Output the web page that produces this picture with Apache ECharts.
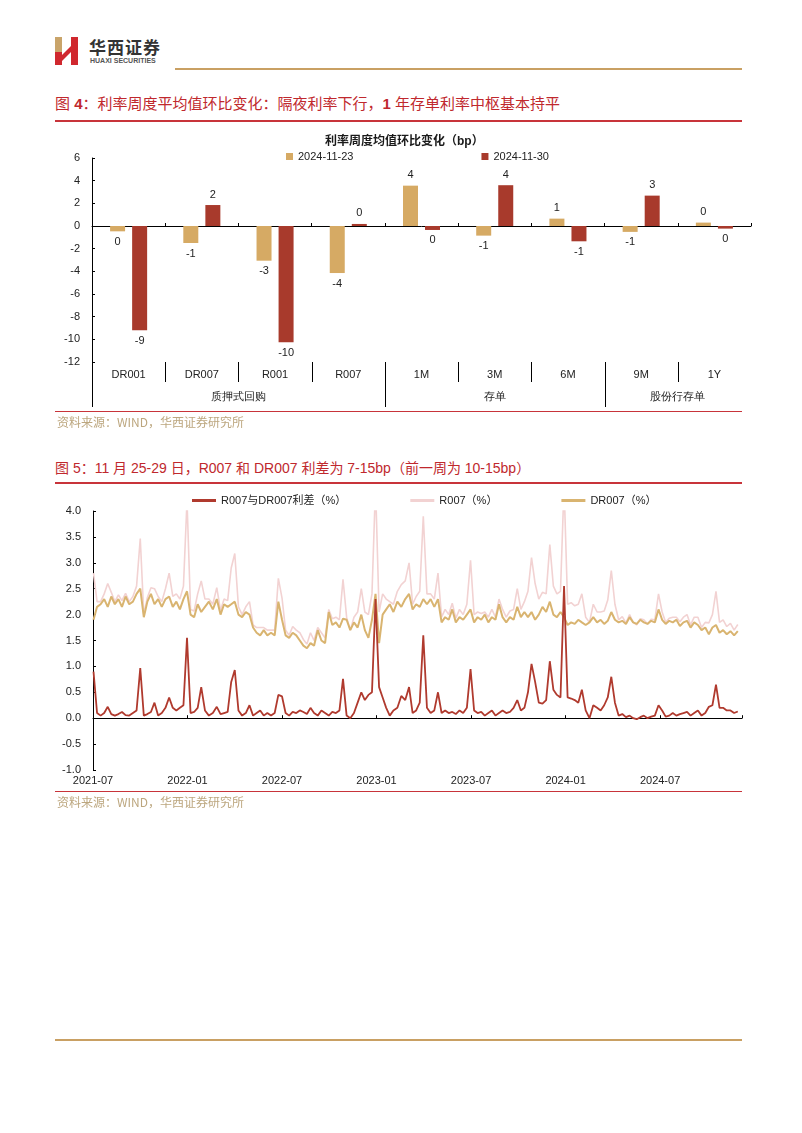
<!DOCTYPE html>
<html><head><meta charset="utf-8">
<script src="https://cdn.jsdelivr.net/npm/echarts@6/dist/echarts.min.js"></script>
<style>
body{margin:0;background:#fff;}
#page{position:relative;width:802px;height:1133px;overflow:hidden;font-family:'Liberation Sans','Noto Sans CJK SC',sans-serif;background:#fff;}
.abs{position:absolute;}
.title{color:#C0282D;font-size:15px;line-height:18px;white-space:nowrap;font-family:'Liberation Sans','Noto Sans CJK SC',sans-serif;}
.src{color:#BCA67E;font-size:12px;line-height:14px;white-space:nowrap;font-family:'Noto Sans CJK SC',sans-serif;}
.rule-red{background:#C8343A;height:1px;}
</style></head><body>
<div id="page">
  <svg class="abs" style="left:55px;top:37px" width="24" height="28" viewBox="0 0 24 28">
    <rect x="0" y="0" width="7" height="15" fill="#C9A46A"/>
    <rect x="0" y="15" width="7" height="13" fill="#D0282E"/>
    <polygon points="3,22 17,8 19,12 5,26" fill="#D0282E"/>
    <rect x="16" y="0" width="7" height="28" fill="#D0282E"/>
  </svg>
  <div class="abs" style="left:89px;top:37px;font-size:17px;line-height:19px;font-weight:bold;color:#333;letter-spacing:1px;font-family:'Noto Sans CJK SC',sans-serif;">华西证券</div>
  <div class="abs" style="left:90px;top:57px;font-size:7px;line-height:8px;font-weight:bold;color:#555;">HUAXI SECURITIES</div>
  <div class="abs" style="left:175px;top:68px;width:567px;height:2px;background:#C9A063;"></div>

  <div class="abs title" style="left:55px;top:95px;">图 <b>4</b>：利率周度平均值环比变化：隔夜利率下行，<b>1</b> 年存单利率中枢基本持平</div>
  <div class="abs rule-red" style="left:55px;top:120px;width:687px;height:2px;"></div>
  <div id="c1" class="abs" style="left:0;top:125px;width:802px;height:290px;"></div>
  <div class="abs rule-red" style="left:55px;top:411px;width:687px;"></div>
  <div class="abs src" style="left:57px;top:415px;">资料来源：WIND，华西证券研究所</div>

  <div class="abs title" style="left:55px;top:459px;font-size:14px;">图 5：11 月 25-29 日，R007 和 DR007 利差为 7-15bp（前一周为 10-15bp）</div>
  <div class="abs rule-red" style="left:55px;top:482px;width:687px;height:2px;"></div>
  <div id="c2" class="abs" style="left:0;top:485px;width:802px;height:315px;"></div>
  <div class="abs rule-red" style="left:55px;top:791px;width:687px;"></div>
  <div class="abs src" style="left:57px;top:795px;">资料来源：WIND，华西证券研究所</div>

  <div class="abs" style="left:55px;top:1039px;width:687px;height:2px;background:#C9A063;"></div>
</div>
<script>
// ---------- Figure 4 data ----------
const barCategories = ['DR001','DR007','R001','R007','1M','3M','6M','9M','1Y'];
const groupNames = ['质押式回购','存单','股份行存单'];
const groupSizes = [4, 3, 2];
const barSeriesNames = ['2024-11-23','2024-11-30'];
const prevWeek = [-0.47, -1.5, -3.06, -4.15, 3.56, -0.85, 0.65, -0.52, 0.3];
const thisWeek = [-9.2, 1.85, -10.26, 0.18, -0.35, 3.6, -1.35, 2.68, -0.23];

// ---------- Figure 5 data (weekly observations, Fridays from 2021-07-02) ----------
const lineSeriesNames = ['R007与DR007利差（%）','R007（%）','DR007（%）'];
const xTickLabels = ['2021-07','2022-01','2022-07','2023-01','2023-07','2024-01','2024-07'];
const spread = [
 0.9,0.1,0.05,0.1,0.22,0.08,0.05,0.08,0.12,0.06,
 0.05,0.1,0.15,0.97,0.05,0.08,0.12,0.3,0.05,0.1,
 0.2,0.4,0.2,0.15,0.2,0.25,1.55,0.1,0.12,0.2,
 0.6,0.15,0.05,0.1,0.22,0.08,0.1,0.12,0.7,0.93,
 0.15,0.05,0.1,0.25,0.05,0.1,0.15,0.05,0.1,0.05,
 0.1,0.45,0.42,0.1,0.05,0.12,0.1,0.15,0.12,0.08,
 0.2,0.1,0.05,0.15,0.1,0.05,0.12,0.1,0.15,0.76,
 0.05,0.0,0.1,0.3,0.5,0.35,0.45,0.5,2.3,0.6,
 0.4,0.2,0.05,0.15,0.2,0.43,0.35,0.6,0.1,0.15,
 0.3,1.6,0.2,0.1,0.15,0.5,0.1,0.15,0.1,0.12,
 0.08,0.15,0.1,0.2,0.95,0.15,0.1,0.12,0.05,0.1,
 0.15,0.05,0.1,0.15,0.1,0.12,0.2,0.35,0.15,0.2,
 0.5,1.05,0.7,0.3,0.28,0.35,1.1,0.55,0.45,0.4,
 2.55,0.4,0.38,0.35,0.3,0.55,0.15,0.0,0.25,0.2,
 0.15,0.25,0.4,0.8,0.3,0.05,0.08,0.02,0.05,0.0,
 -0.02,0.02,0.05,0.0,0.03,0.05,0.25,0.15,0.03,0.05,
 0.1,0.05,0.08,0.1,0.12,0.05,0.1,0.15,0.05,0.1,
 0.22,0.25,0.65,0.2,0.2,0.15,0.15,0.1,0.13];
const r007 = [
 2.8,2.25,2.25,2.4,2.6,2.43,2.25,2.38,2.27,2.41,
 2.25,2.35,2.55,3.47,2.0,2.33,2.52,2.5,2.35,2.25,
 2.5,2.8,2.35,2.4,2.3,2.55,4.2,2.1,2.07,2.4,
 2.65,2.3,2.3,2.2,2.52,2.08,2.3,2.27,2.9,3.18,
 2.15,2.0,2.15,2.25,1.8,1.75,1.75,1.75,1.7,1.7,
 1.7,2.7,2.32,1.7,1.6,1.77,1.7,1.65,1.52,1.43,
 1.65,1.5,1.75,1.65,1.55,2.1,1.92,1.95,1.9,2.68,
 1.95,1.7,1.95,2.05,2.5,2.05,2.0,2.4,4.5,2.05,
 2.4,2.3,2.25,2.2,2.45,2.58,2.65,3.0,2.2,2.35,
 2.45,3.9,2.4,2.4,2.3,2.8,1.95,2.1,2.0,2.22,
 1.93,2.1,2.0,2.2,3.05,2.0,2.05,2.02,2.05,1.95,
 2.1,1.95,2.3,2.1,1.95,2.07,2.1,2.5,2.1,2.25,
 2.45,3.1,2.6,2.3,2.43,2.4,3.35,2.55,2.4,2.45,
 4.5,2.2,2.23,2.17,2.2,2.4,1.95,1.85,2.2,2.05,
 2.05,2.07,2.28,2.85,2.2,1.9,1.96,1.84,2.0,1.85,
 1.8,1.92,1.9,1.82,1.91,1.9,2.4,2.05,1.85,1.93,
 1.95,1.95,1.86,1.95,2.0,1.8,1.95,1.95,1.75,1.85,
 1.84,2.0,2.45,1.85,1.9,1.77,1.83,1.7,1.81];
const dr007 = [
 1.9,2.15,2.2,2.3,2.15,2.35,2.2,2.3,2.15,2.35,
 2.2,2.25,2.4,2.5,1.95,2.25,2.4,2.2,2.3,2.15,
 2.3,2.35,2.15,2.25,2.1,2.3,2.45,2.0,1.95,2.2,
 2.05,2.15,2.25,2.1,2.3,2.0,2.2,2.15,2.2,2.25,
 2.0,1.95,2.05,2.0,1.75,1.65,1.6,1.7,1.6,1.65,
 1.6,2.25,1.9,1.6,1.55,1.65,1.6,1.5,1.4,1.35,
 1.45,1.4,1.7,1.5,1.45,2.05,1.8,1.85,1.75,1.92,
 1.9,1.7,1.85,1.75,2.0,1.7,1.55,1.9,2.4,1.45,
 2.0,2.1,2.2,2.05,2.25,2.15,2.3,2.4,2.1,2.2,
 2.15,2.3,2.2,2.3,2.15,2.3,1.85,1.95,1.9,2.1,
 1.85,1.95,1.9,2.0,2.1,1.85,1.95,1.9,2.0,1.85,
 1.95,1.9,2.2,1.95,1.85,1.95,1.9,2.15,1.95,2.05,
 1.95,2.05,1.9,2.0,2.15,2.05,2.25,2.0,1.95,2.05,
 1.95,1.8,1.85,1.82,1.9,1.85,1.8,1.85,1.95,1.85,
 1.9,1.82,1.88,2.05,1.9,1.85,1.88,1.82,1.95,1.85,
 1.82,1.9,1.85,1.82,1.88,1.85,2.1,1.9,1.82,1.88,
 1.85,1.9,1.78,1.85,1.88,1.75,1.85,1.8,1.7,1.75,
 1.62,1.75,1.8,1.65,1.7,1.62,1.68,1.6,1.68];

const FONT = "'Liberation Sans','Noto Sans CJK SC',sans-serif";
const GOLD = '#D6AA64', RED = '#A83A2C';

// ---------- Chart 1 ----------
const c1 = echarts.init(document.getElementById('c1'));
const labelFmt = p => String(Math.round(p.value) || 0);
c1.setOption({
  animation: false,
  textStyle: {fontFamily: FONT},
  title: {text: '利率周度均值环比变化（bp）', left: 320, top: 6,
    textStyle: {fontSize: 12, fontWeight: 'bold', color: '#1a1a1a', fontFamily: FONT}},
  legend: {left: 281, top: 21, itemWidth: 7, itemHeight: 7, itemGap: 128, icon: 'rect',
    textStyle: {fontSize: 11, color: '#222', fontFamily: FONT}, data: barSeriesNames},
  grid: {left: 92, right: 51, top: 33, bottom: 53},
  xAxis: [
    {type: 'category', data: barCategories, position: 'bottom',
     axisLine: {show: false, onZero: false}, axisTick: {show: false},
     axisLabel: {fontSize: 11, color: '#222', margin: 7, fontFamily: FONT}},
    {type: 'category', data: barCategories, position: 'bottom',
     axisLine: {show: true, onZero: true, lineStyle: {color: '#000', width: 1}},
     axisTick: {show: true, inside: true, length: 3, lineStyle: {color: '#000'}},
     axisLabel: {show: false}}
  ],
  yAxis: {type: 'value', min: -12, max: 6, interval: 2,
    axisLine: {show: true, lineStyle: {color: '#000'}},
    axisTick: {show: true, inside: true, length: 3, lineStyle: {color: '#000'}},
    splitLine: {show: false},
    axisLabel: {fontSize: 11, color: '#222', margin: 12, fontFamily: FONT}},
  series: [
    {name: barSeriesNames[0], type: 'bar', data: prevWeek, barWidth: 15, barGap: '47%',
     itemStyle: {color: GOLD},
     label: {show: true, position: 'outside', distance: 5, fontSize: 11, color: '#222', formatter: labelFmt}},
    {name: barSeriesNames[1], type: 'bar', data: thisWeek, barWidth: 15, barGap: '47%',
     itemStyle: {color: RED},
     label: {show: true, position: 'outside', distance: 5, fontSize: 11, color: '#222', formatter: labelFmt}}
  ]
});
(function addGroupAxis() {
  const cx0 = c1.convertToPixel({xAxisIndex: 0}, barCategories[0]);
  const cx1 = c1.convertToPixel({xAxisIndex: 0}, barCategories[1]);
  const w = cx1 - cx0;
  const left = cx0 - w / 2;
  const yb = c1.convertToPixel({yAxisIndex: 0}, -12);
  const els = [];
  const groupEnds = [];
  let acc = 0;
  groupSizes.forEach(n => { acc += n; groupEnds.push(acc); });
  for (let k = 0; k < barCategories.length; k++) {
    const x = Math.round(left + k * w) + 0.5;
    const long = k === 0 || groupEnds.indexOf(k) >= 0;
    els.push({type: 'line', shape: {x1: x, y1: yb, x2: x, y2: yb + (long ? 45 : 20)},
      style: {stroke: '#000', lineWidth: 1}, silent: true});
  }
  let start = 0;
  groupNames.forEach((g, gi) => {
    const cx = left + (start + groupSizes[gi] / 2) * w;
    els.push({type: 'text', x: cx, y: yb + 35,
      style: {text: g, fontSize: 11, fill: '#222', font: '11px ' + FONT, align: 'center', verticalAlign: 'middle'}, silent: true});
    start += groupSizes[gi];
  });
  c1.setOption({graphic: els});
})();

// ---------- Chart 2 ----------
function monthPos(i) {
  const d = new Date(Date.UTC(2021, 6, 2) + i * 7 * 864e5);
  const y = d.getUTCFullYear(), m = d.getUTCMonth(), day = d.getUTCDate();
  const dim = new Date(Date.UTC(y, m + 1, 0)).getUTCDate();
  return (y - 2021) * 12 + (m - 6) + (day - 1) / dim;
}
const pairs = arr => arr.map((v, i) => [monthPos(i), v]);
const c2 = echarts.init(document.getElementById('c2'));
c2.setOption({
  animation: false,
  textStyle: {fontFamily: FONT},
  legend: {left: 187, top: 5, itemWidth: 24, itemHeight: 3, itemGap: 64, icon: 'rect',
    textStyle: {fontSize: 11, color: '#222', fontFamily: FONT}, data: lineSeriesNames},
  grid: {left: 93, right: 60, top: 26, bottom: 30},
  xAxis: [
    {type: 'value', min: 0, max: 41.2, interval: 6, position: 'bottom',
     axisLine: {show: false, onZero: false}, axisTick: {show: false}, splitLine: {show: false},
     axisLabel: {fontSize: 11, color: '#222', margin: 5, showMaxLabel: false, fontFamily: FONT,
       formatter: v => (v % 6 === 0 && xTickLabels[v / 6]) ? xTickLabels[v / 6] : ''}},
    {type: 'value', min: 0, max: 41.2, interval: 6, position: 'bottom',
     axisLine: {show: true, onZero: true, lineStyle: {color: '#000', width: 1}},
     axisTick: {show: true, inside: true, length: 3, lineStyle: {color: '#000'}},
     splitLine: {show: false}, axisLabel: {show: false}}
  ],
  yAxis: {type: 'value', min: -1, max: 4, interval: 0.5,
    axisLine: {show: true, lineStyle: {color: '#000'}},
    axisTick: {show: true, inside: true, length: 3, lineStyle: {color: '#000'}},
    splitLine: {show: false},
    axisLabel: {fontSize: 11, color: '#222', margin: 12, fontFamily: FONT, formatter: v => v.toFixed(1)}},
  series: [
    {name: lineSeriesNames[1], type: 'line', data: pairs(r007), showSymbol: false, symbol: 'none',
     lineStyle: {color: '#F2D2D2', width: 1.6}, itemStyle: {color: '#F2D2D2'}, clip: true},
    {name: lineSeriesNames[2], type: 'line', data: pairs(dr007), showSymbol: false, symbol: 'none',
     lineStyle: {color: '#D9B470', width: 2}, itemStyle: {color: '#D9B470'}, clip: true},
    {name: lineSeriesNames[0], type: 'line', data: pairs(spread), showSymbol: false, symbol: 'none',
     lineStyle: {color: '#B03A2E', width: 1.8}, itemStyle: {color: '#B03A2E'}, clip: true}
  ]
});
</script>
</body></html>
